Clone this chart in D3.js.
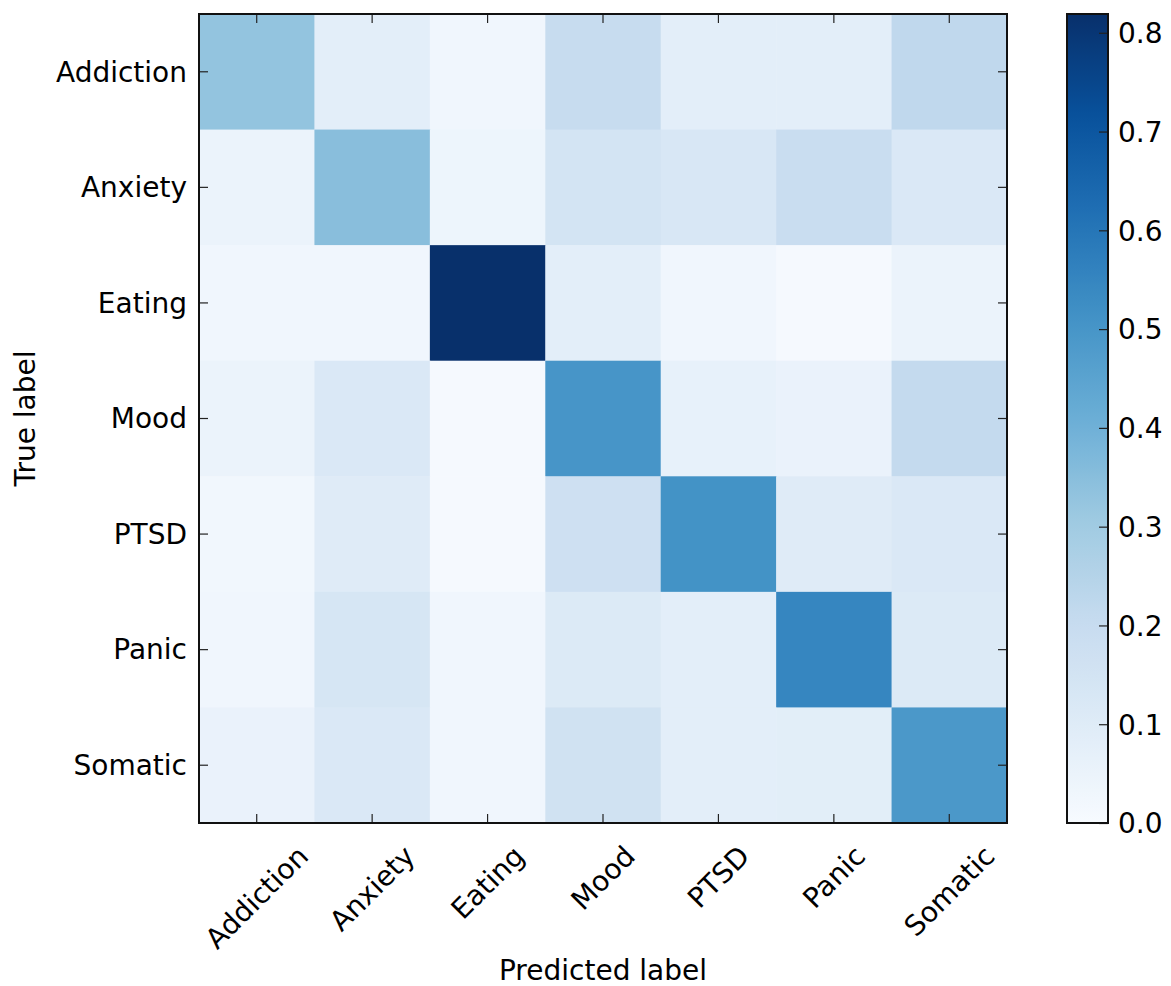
<!DOCTYPE html>
<html>
<head>
<meta charset="utf-8">
<script src="https://cdn.jsdelivr.net/npm/d3@7"></script>
<style>
  html, body { margin: 0; padding: 0; background: #fff; }
  svg { display: block; }
  text { font-family: "DejaVu Sans", sans-serif; fill: #000; }
</style>
</head>
<body>
<svg id="chart" width="1171" height="986"></svg>
<script>
// ---- data ----
const classes = ["Addiction", "Anxiety", "Eating", "Mood", "PTSD", "Panic", "Somatic"];
const rowAddiction = [0.33, 0.08, 0.03, 0.20, 0.08, 0.08, 0.22];
const rowAnxiety   = [0.05, 0.35, 0.04, 0.15, 0.13, 0.19, 0.12];
const rowEating    = [0.03, 0.03, 0.819, 0.08, 0.03, 0.01, 0.05];
const rowMood      = [0.05, 0.12, 0.01, 0.50, 0.065, 0.055, 0.21];
const rowPTSD      = [0.025, 0.10, 0.01, 0.17, 0.51, 0.10, 0.12];
const rowPanic     = [0.03, 0.135, 0.03, 0.11, 0.08, 0.55, 0.11];
const rowSomatic   = [0.055, 0.12, 0.03, 0.16, 0.08, 0.085, 0.49];
const matrixRows = [rowAddiction, rowAnxiety, rowEating, rowMood, rowPTSD, rowPanic, rowSomatic];
const colorbarTicks = [0.0, 0.1, 0.2, 0.3, 0.4, 0.5, 0.6, 0.7, 0.8];
const vmin = 0, vmax = 0.819;
const xTitle = "Predicted label";
const yTitle = "True label";

// matplotlib "Blues" colormap anchors
const bluesStops = ["#f7fbff", "#deebf7", "#c6dbef", "#9ecae1", "#6baed6", "#4292c6", "#2171b5", "#08519c", "#08306b"];

// ---- layout ----
const svg = d3.select("#chart");
const pLeft = 199, pRight = 1007, pTop = 14, pBottom = 823;
const cbLeft = 1067, cbRight = 1108;
const fontSize = 28;
const tickLen = 9;

const x = d3.scaleBand().domain(classes).range([pLeft, pRight]);
const y = d3.scaleBand().domain(classes).range([pTop, pBottom]);
const color = d3.scaleLinear()
  .domain(bluesStops.map((_, i) => vmin + (vmax - vmin) * i / (bluesStops.length - 1)))
  .range(bluesStops)
  .interpolate(d3.interpolateRgb)
  .clamp(true);

const cells = [];
matrixRows.forEach((row, i) => row.forEach((v, j) => cells.push({ r: classes[i], c: classes[j], v })));

svg.append("g").selectAll("rect").data(cells).join("rect")
  .attr("x", d => x(d.c))
  .attr("y", d => y(d.r))
  .attr("width", x.bandwidth() + 0.5)
  .attr("height", y.bandwidth() + 0.5)
  .attr("fill", d => color(d.v));

// ---- axes ----
function styleAxis(g) {
  g.select(".domain").remove();
  g.selectAll(".tick line").attr("stroke", "#222").attr("stroke-width", 1.2);
  g.selectAll(".tick text").style("font-size", fontSize + "px").style("font-family", "DejaVu Sans").attr("fill", "#000");
}

const gLeft = svg.append("g").attr("transform", `translate(${pLeft},0)`)
  .call(d3.axisLeft(y).tickSizeInner(-tickLen).tickSizeOuter(0).tickPadding(12));
styleAxis(gLeft);
gLeft.selectAll(".tick text").attr("dy", "0.35em");

const gRight = svg.append("g").attr("transform", `translate(${pRight},0)`)
  .call(d3.axisRight(y).tickSizeInner(-tickLen).tickSizeOuter(0).tickFormat(""));
styleAxis(gRight);

const gTop = svg.append("g").attr("transform", `translate(0,${pTop})`)
  .call(d3.axisTop(x).tickSizeInner(-tickLen).tickSizeOuter(0).tickFormat(""));
styleAxis(gTop);

const gBottom = svg.append("g").attr("transform", `translate(0,${pBottom})`)
  .call(d3.axisBottom(x).tickSizeInner(-tickLen).tickSizeOuter(0));
styleAxis(gBottom);
gBottom.selectAll(".tick text").each(function () {
  const t = d3.select(this);
  const L = this.getComputedTextLength();
  const h = fontSize * 1.1;
  const cyy = 17 + (L + h) * Math.SQRT1_2 / 2;
  t.attr("x", 0).attr("y", cyy).attr("dy", "0.35em")
    .attr("text-anchor", "middle")
    .attr("transform", `rotate(-45,0,${cyy})`);
});

// frame
svg.append("rect")
  .attr("x", pLeft).attr("y", pTop)
  .attr("width", pRight - pLeft).attr("height", pBottom - pTop)
  .attr("fill", "none").attr("stroke", "#111").attr("stroke-width", 2);

// axis titles
svg.append("text")
  .attr("x", (pLeft + pRight) / 2).attr("y", 980)
  .attr("text-anchor", "middle")
  .style("font-size", fontSize + "px")
  .text(xTitle);

svg.append("text")
  .attr("transform", `translate(35,${(pTop + pBottom) / 2}) rotate(-90)`)
  .attr("text-anchor", "middle")
  .style("font-size", fontSize + "px")
  .text(yTitle);

// ---- colorbar ----
const cScale = d3.scaleLinear().domain([vmin, vmax]).range([pBottom, pTop]);
const defs = svg.append("defs");
const grad = defs.append("linearGradient").attr("id", "cbgrad")
  .attr("x1", 0).attr("y1", 1).attr("x2", 0).attr("y2", 0);
d3.range(0, 1.0001, 0.02).forEach(t => {
  grad.append("stop").attr("offset", t).attr("stop-color", color(vmin + t * (vmax - vmin)));
});
svg.append("rect")
  .attr("x", cbLeft).attr("y", pTop)
  .attr("width", cbRight - cbLeft).attr("height", pBottom - pTop)
  .attr("fill", "url(#cbgrad)");

const gCb = svg.append("g").attr("transform", `translate(${cbRight},0)`)
  .call(d3.axisRight(cScale).tickValues(colorbarTicks).tickFormat(d3.format(".1f"))
    .tickSizeInner(-tickLen).tickSizeOuter(0).tickPadding(10));
styleAxis(gCb);
gCb.selectAll(".tick text").attr("dy", "0.35em");

svg.append("rect")
  .attr("x", cbLeft).attr("y", pTop)
  .attr("width", cbRight - cbLeft).attr("height", pBottom - pTop)
  .attr("fill", "none").attr("stroke", "#111").attr("stroke-width", 2);
</script>
</body>
</html>
